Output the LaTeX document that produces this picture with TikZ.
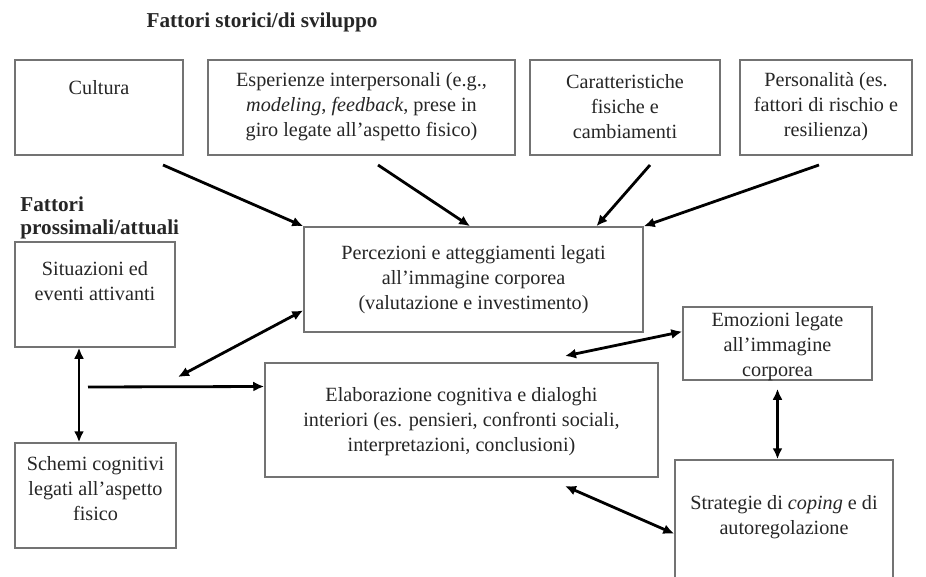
\documentclass[tikz,border=0pt]{standalone}
\usepackage{fontspec}
\setmainfont{Liberation Serif}
\usetikzlibrary{arrows.meta,fit,calc}
\begin{document}
\begin{tikzpicture}[x=0.5pt,y=-0.5pt,
  box/.style={draw=black!55, line width=0.75pt, rectangle, inner sep=0pt},
  txt/.style={align=center, font=\fontsize{10.1}{12.5}\selectfont, inner sep=0pt, text=black!85},
  head/.style={font=\bfseries\fontsize{10.6}{11.5}\selectfont, inner sep=0pt, align=left, text=black!85},
  arr/.style={line width=1.4pt, -{Latex[length=5.5pt,width=5pt]}},
  biarr/.style={line width=1.4pt, {Latex[length=5.5pt,width=5pt]}-{Latex[length=5.5pt,width=5pt]}}]
\clip (0,0) rectangle (926,577);
\fill[white] (0,0) rectangle (926,577);

% headings
\node[head] (title) at (262,22) {Fattori storici/di sviluppo};
\node[head, anchor=west] (prox) at (20,218) {Fattori\\prossimali/attuali};

% boxes
\node[box, fit={(15,60) (183,155)}] (cul) {};
\node[box, fit={(208,60) (515,155)}] (esp) {};
\node[box, fit={(530,60) (720,155)}] (car) {};
\node[box, fit={(740,60) (912,155)}] (pers) {};
\node[box, fit={(15,242) (175,347)}] (sit) {};
\node[box, fit={(304,227) (643,332)}] (perc) {};
\node[box, fit={(683,307) (872,380)}] (emo) {};
\node[box, fit={(265,363) (658,477)}] (elab) {};
\node[box, fit={(15,443) (176,548)}] (sch) {};
\node[box, fit={(675,460) (893,595)}] (str) {};

% texts
\node[txt] (culT) at (99,88) {Cultura};
\node[txt] (espT) at (361.5,107) {Esperienze interpersonali (e.g.,\\\textit{modeling}, \textit{feedback}, prese in\\giro legate all’aspetto fisico)};
\node[txt] (carT) at (625,107) {Caratteristiche\\fisiche e\\cambiamenti};
\node[txt] (persT) at (826,107) {Personalità (es.\\fattori di rischio e\\resilienza)};
\node[txt] (sitT) at (95,281) {Situazioni ed\\eventi attivanti};
\node[txt] (percT) at (473.5,280) {Percezioni e atteggiamenti legati\\all’immagine corporea\\(valutazione e investimento)};
\node[txt] (emoT) at (777.5,347) {Emozioni legate\\all’immagine\\corporea};
\node[txt] (elabT) at (461.5,422) {Elaborazione cognitiva e dialoghi\\interiori (es. pensieri, confronti sociali,\\interpretazioni, conclusioni)};
\node[txt] (schT) at (95.5,489) {Schemi cognitivi\\legati all’aspetto\\fisico};
\node[txt] (strT) at (784,517.5) {Strategie di \textit{coping} e di\\autoregolazione};

% free ends
\coordinate (c1) at (163,165);
\coordinate (c2) at (378,165);
\coordinate (c3) at (650,165);
\coordinate (c4) at (819,165);
\coordinate (c5) at (178,377);
\coordinate (c6) at (88,387);
\coordinate (c8) at (565,356);
\coordinate (c10) at (565,486);

% connectors
\draw[arr] (c1) -- (perc.north west);
\draw[arr] (c2) -- ($(perc.north west)!0.49!(perc.north east)$);
\draw[arr] (c3) -- ($(perc.north west)!0.861!(perc.north east)$);
\draw[arr] (c4) -- (perc.north east);
\draw[biarr] ($(perc.north west)!0.79!(perc.south west)$) -- (c5);
\draw[arr] (c6) -- ($(elab.north west)!0.21!(elab.south west)$);
\draw[biarr] ([xshift=-8pt]sit.south) -- ([xshift=-8.25pt]sch.north);
\draw[biarr] ($(emo.north west)!0.34!(emo.south west)$) -- (c8);
\draw[biarr] ([yshift=-4pt]emo.south) -- (emo.south |- str.north);
\draw[biarr] (c10) -- ($(str.north west)!0.546!(str.south west)$);
\end{tikzpicture}
\end{document}
